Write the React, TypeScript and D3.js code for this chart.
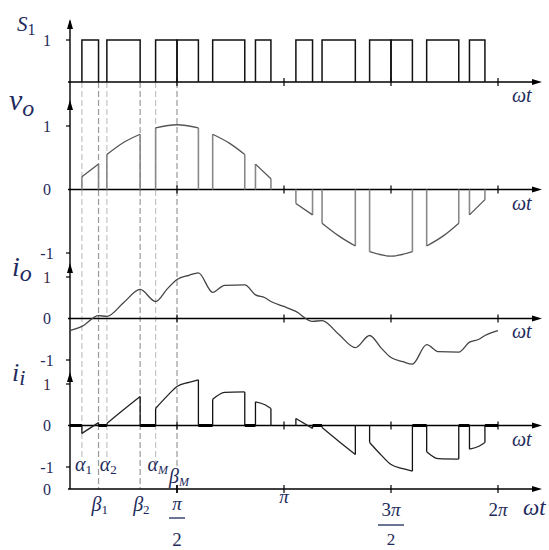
import React from 'react';
import * as d3 from 'd3';

// switching pulses of S1, degrees of wt
const pulseOn = [10, 31, 72, 90, 120, 156, 190, 212, 252, 270, 300, 336];
const pulseOff = [24, 59, 90, 108, 147, 169, 204, 240, 270, 288, 327, 349];

// output voltage tops during conduction, [deg, value]
const voSegments: [number, number][][] = [
  [[10, 0.2], [24, 0.4]],
  [[31, 0.55], [45, 0.74], [59, 0.87]],
  [[72, 0.97], [90, 1.02], [108, 0.97]],
  [[120, 0.87], [134, 0.73], [147, 0.55]],
  [[156, 0.4], [169, 0.17]],
  [[190, -0.22], [204, -0.4]],
  [[212, -0.53], [226, -0.73], [240, -0.89]],
  [[252, -0.98], [270, -1.05], [288, -0.98]],
  [[300, -0.89], [314, -0.73], [327, -0.53]],
  [[336, -0.4], [349, -0.16]],
];

// output current
const ioPoints: [number, number][] = [
  [0, -0.29], [10, -0.19], [24, 0.07], [31, 0.05], [45, 0.38], [59, 0.7],
  [72, 0.41], [82, 0.72], [90, 0.94], [100, 1.04], [108, 1.1], [120, 0.63],
  [130, 0.8], [147, 0.81], [156, 0.57], [164, 0.5], [169, 0.41], [180, 0.29],
  [190, 0.17], [204, -0.07], [212, -0.05], [226, -0.38], [240, -0.7],
  [252, -0.41], [262, -0.72], [270, -0.94], [280, -1.04], [288, -1.1],
  [300, -0.63], [310, -0.8], [327, -0.81], [336, -0.57], [344, -0.5],
  [349, -0.41], [360, -0.29],
];

// intervals where input current is held at zero (thick)
const iiZeroGaps = [[0, 10], [24, 31], [59, 72], [108, 120], [147, 156], [204, 212], [288, 300], [327, 336], [349, 360]];

const guideNames = ['α', 'β', 'α', 'β', 'α', 'β'];
const guideSubs = ['1', '1', '2', '2', 'M', 'M'];
const guideAngles = [10, 24, 31, 59, 72, 90];

const axisTicks = [90, 180, 270, 360];

const navy = '#1e2b5c';
const serif = 'Liberation Serif, Times New Roman, DejaVu Serif, serif';

const x = d3.scaleLinear().domain([0, 360]).range([70, 498]);
const yS = d3.scaleLinear().domain([0, 1]).range([82, 40]);
const yV = d3.scaleLinear().domain([-1, 1]).range([253, 126]);
const yI = d3.scaleLinear().domain([-1, 1]).range([360, 277]);
const yII = d3.scaleLinear().domain([-1, 1]).range([467, 384]);
const yBottom = 489;

function mergedIntervals() {
  const out: [number, number][] = [];
  pulseOn.forEach((a, i) => {
    const b = pulseOff[i];
    if (out.length && out[out.length - 1][1] === a) out[out.length - 1][1] = b;
    else out.push([a, b]);
  });
  return out;
}

const ArrowUp = ({ cx, cy }: { cx: number; cy: number }) => (
  <path d={`M${cx},${cy} L${cx - 3},${cy + 10} L${cx + 3},${cy + 10} Z`} fill="#000" />
);
const ArrowRight = ({ cx, cy }: { cx: number; cy: number }) => (
  <path d={`M${cx},${cy} L${cx - 10},${cy - 3} L${cx - 10},${cy + 3} Z`} fill="#000" />
);

const Wt = ({ px, py, size = 20 }: { px: number; py: number; size?: number }) => (
  <text x={px} y={py} fontFamily={serif} fontStyle="italic" fontSize={size} fill={navy}>ωt</text>
);

export default function App() {
  const intervals = mergedIntervals();
  const lineS = d3.line<[number, number]>().x(d => x(d[0])).y(d => yS(d[1]));
  const lineV = d3.line<[number, number]>().x(d => x(d[0])).y(d => yV(d[1])).curve(d3.curveNatural);
  const lineI = d3.line<[number, number]>().x(d => x(d[0])).y(d => yI(d[1])).curve(d3.curveMonotoneX);
  const lineII = d3.line<[number, number]>().x(d => x(d[0])).y(d => yII(d[1])).curve(d3.curveMonotoneX);

  const axisYs = [yS(0), yV(0), yI(0), yII(0), yBottom];
  const arrowTips = [19, 100, 263, 372];

  const levelLabels: { t: string; y: number; c?: string }[] = [
    { t: '1', y: yS(1) },
    { t: '1', y: yV(1) },
    { t: '0', y: yV(0) },
    { t: '-1', y: yV(-1) },
    { t: '1', y: yI(1), c: '#3e1f45' },
    { t: '0', y: yI(0) },
    { t: '-1', y: yI(-1) },
    { t: '1', y: yII(1), c: '#3e1f45' },
    { t: '0', y: yII(0) },
    { t: '-1', y: yII(-1) },
    { t: '0', y: yBottom },
  ];
  const levelTicks = [yS(1), yV(1), yV(-1), yI(1), yI(-1), yII(1), yII(-1)];

  return (
    <svg width={549} height={550} style={{ position: 'absolute', left: 0, top: 0, background: '#fff' }}>
      {/* dashed guide lines */}
      {guideAngles.map((a, i) => {
        const isBeta = guideNames[i] === 'β';
        const end = guideSubs[i] === 'M' ? 466 : isBeta ? yBottom : 458;
        return (
          <line key={'g' + i} x1={x(a)} x2={x(a)} y1={yS(0)} y2={end}
            stroke={isBeta ? '#9a9a9a' : '#c4c4c4'} strokeWidth={1.2} strokeDasharray="6,3" />
        );
      })}

      {/* axes */}
      <line x1={70} x2={70} y1={arrowTips[0] + 2} y2={yBottom} stroke="#000" strokeWidth={1.4} />
      {arrowTips.map((t, i) => <ArrowUp key={'au' + i} cx={70} cy={t} />)}
      {levelTicks.map((t, i) => <line key={'lt' + i} x1={66} x2={70} y1={t} y2={t} stroke="#000" strokeWidth={1.2} />)}
      {axisYs.map((ay, i) => (
        <g key={'ax' + i}>
          <line x1={68} x2={538} y1={ay} y2={ay} stroke="#000" strokeWidth={1.4} />
          <ArrowRight cx={542} cy={ay} />
          {axisTicks.map(tk => (
            <line key={tk} x1={x(tk)} x2={x(tk)} y1={ay - 4} y2={ay + 4} stroke="#000" strokeWidth={1.2} />
          ))}
        </g>
      ))}

      {/* S1 pulses */}
      {pulseOn.map((a, i) => (
        <path key={'p' + i} fill="none" stroke="#111" strokeWidth={1.5}
          d={lineS([[a, 0], [a, 1], [pulseOff[i], 1], [pulseOff[i], 0]]) || ''} />
      ))}

      {/* vo */}
      {voSegments.map((seg, i) => {
        const a = seg[0], b = seg[seg.length - 1];
        return (
          <g key={'v' + i}>
            <line x1={x(a[0])} x2={x(a[0])} y1={yV(0)} y2={yV(a[1])} stroke="#888" strokeWidth={1.6} />
            <line x1={x(b[0])} x2={x(b[0])} y1={yV(0)} y2={yV(b[1])} stroke="#888" strokeWidth={1.6} />
            <path d={lineV(seg) || ''} fill="none" stroke="#555" strokeWidth={1.3} />
          </g>
        );
      })}

      {/* io */}
      <path d={lineI(ioPoints) || ''} fill="none" stroke="#444" strokeWidth={1.3} />

      {/* ii */}
      {iiZeroGaps.map((g, i) => (
        <line key={'z' + i} x1={x(g[0])} x2={x(g[1])} y1={yII(0)} y2={yII(0)} stroke="#000" strokeWidth={3} />
      ))}
      {intervals.map(([a, b], i) => {
        const pts = ioPoints.filter(d => d[0] >= a && d[0] <= b);
        const p0 = pts[0], p1 = pts[pts.length - 1];
        return (
          <g key={'ii' + i}>
            <line x1={x(a)} x2={x(a)} y1={yII(0)} y2={yII(p0[1])} stroke="#111" strokeWidth={1.3} />
            <line x1={x(b)} x2={x(b)} y1={yII(0)} y2={yII(p1[1])} stroke="#111" strokeWidth={1.3} />
            <path d={lineII(pts) || ''} fill="none" stroke="#222" strokeWidth={1.3} />
          </g>
        );
      })}

      {/* panel names */}
      <text x={17} y={31} fontFamily={serif} fontStyle="italic" fontSize={21} fill={navy}>
        S<tspan fontStyle="normal" fontSize={16} dy={4}>1</tspan>
      </text>
      <text x={9} y={110} fontFamily={serif} fontStyle="italic" fontSize={30} fill={navy}>
        v<tspan fontSize={24} dy={6}>o</tspan>
      </text>
      <text x={12} y={276} fontFamily={serif} fontStyle="italic" fontSize={28} fill={navy}>
        i<tspan fontSize={24} dy={5}>o</tspan>
      </text>
      <text x={12} y={381} fontFamily={serif} fontStyle="italic" fontSize={26} fill={navy}>
        i<tspan fontSize={22} dy={4}>i</tspan>
      </text>

      {levelLabels.map((l, i) => (
        <text key={'ll' + i} x={47} y={l.y} dy="0.35em" textAnchor="middle" fontFamily={serif}
          fontSize={16} fill={l.c || navy}>{l.t}</text>
      ))}

      <Wt px={512} py={102} />
      <Wt px={512} py={210} />
      <Wt px={512} py={338} />
      <Wt px={512} py={446} />
      <Wt px={523} py={515} size={23} />

      {/* alpha / beta labels */}
      {guideAngles.map((a, i) => {
        const isBeta = guideNames[i] === 'β';
        const isM = guideSubs[i] === 'M';
        const py = isM && isBeta ? 483 : isBeta ? 511 : 471;
        return (
          <text key={'gl' + i} x={x(a) - (isM ? 8 : 7)} y={py} fontFamily={serif} fontStyle="italic"
            fontSize={20} fill={navy}>
            {guideNames[i]}
            <tspan fontStyle={isM ? 'italic' : 'normal'} fontSize={isM ? 12 : 13} dy={3}>{guideSubs[i]}</tspan>
          </text>
        );
      })}

      {/* x tick labels */}
      <line x1={x(90)} x2={x(90)} y1={yBottom - 4} y2={yBottom + 4} stroke="#000" strokeWidth={1.4} />
      <text x={x(90)} y={510} textAnchor="middle" fontFamily={serif} fontStyle="italic" fontSize={19} fill={navy}>π</text>
      <line x1={x(90) - 8} x2={x(90) + 8} y1={518} y2={518} stroke={navy} strokeWidth={1.3} />
      <text x={x(90)} y={546} textAnchor="middle" fontFamily={serif} fontSize={19} fill={navy}>2</text>

      <text x={x(180)} y={503} textAnchor="middle" fontFamily={serif} fontStyle="italic" fontSize={19} fill={navy}>π</text>

      <text x={x(270)} y={516} textAnchor="middle" fontFamily={serif} fontSize={19} fill={navy}>
        3<tspan fontStyle="italic">π</tspan>
      </text>
      <line x1={x(270) - 13} x2={x(270) + 13} y1={525} y2={525} stroke={navy} strokeWidth={1.3} />
      <text x={x(270)} y={545} textAnchor="middle" fontFamily={serif} fontSize={17} fill={navy}>2</text>

      <text x={x(360)} y={516} textAnchor="middle" fontFamily={serif} fontSize={19} fill={navy}>
        2<tspan fontStyle="italic">π</tspan>
      </text>
    </svg>
  );
}
